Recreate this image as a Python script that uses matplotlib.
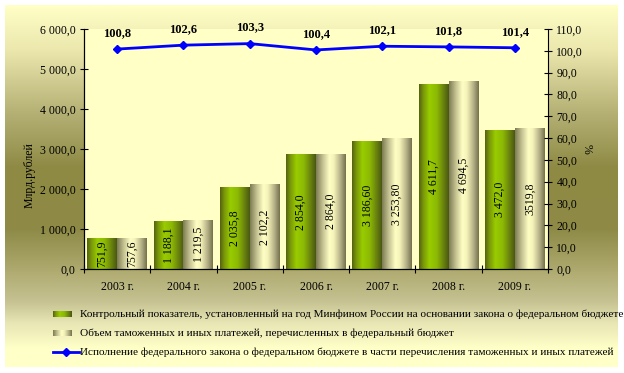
import numpy as np
import matplotlib
matplotlib.use('Agg')
import matplotlib.pyplot as plt
from matplotlib.colors import LinearSegmentedColormap


# -- -----------------------------
# data
years       = ['2003 г.', '2004 г.', '2005 г.', '2006 г.', '2007 г.', '2008 г.', '2009 г.']

plan        = [751.9, 1188.1, 2035.8, 2854.0, 3186.60, 4611.7, 3472.0]
plan_lbl    = ['751,9', '1 188,1', '2 035,8', '2 854,0', '3 186,60', '4 611,7', '3 472,0']

fact        = [757.6, 1219.5, 2102.2, 2864.0, 3253.80, 4694.5, 3519.8]
fact_lbl    = ['757,6', '1 219,5', '2 102,2', '2 864,0', '3 253,80', '4 694,5', '3519,8']

pct         = [100.8, 102.6, 103.3, 100.4, 102.1, 101.8, 101.4]
pct_lbl     = ['100,8', '102,6', '103,3', '100,4', '102,1', '101,8', '101,4']

legend_lbl  = [
    'Контрольный показатель, установленный на год Минфином России на основании закона о федеральном бюджете',
    'Объем таможенных и иных платежей, перечисленных в федеральный бюджет',
    'Исполнение федерального закона о федеральном бюджете в части перечисления таможенных и иных платежей',
]
# -- -----------------------------


plt.rcParams['font.family'] = ['Liberation Serif', 'DejaVu Serif']

W, H = 624, 373
LINE_COLOR = '#0000FF'

green_cmap = LinearSegmentedColormap.from_list('green_bar', [
    (0.00, '#556410'), (0.15, '#7C9A08'), (0.35, '#99CC00'),
    (0.60, '#8CB804'), (0.82, '#6A840E'), (1.00, '#4A5812')])

cream_cmap = LinearSegmentedColormap.from_list('cream_bar', [
    (0.00, '#7E7C54'), (0.20, '#BEBC8C'), (0.45, '#FFFFC4'),
    (0.60, '#F4F2B8'), (0.82, '#B6B288'), (1.00, '#76724E')])

bg_cmap = LinearSegmentedColormap.from_list('panel_bg', [
    (0.00, '#FFFFC6'), (0.12, '#ECE8AE'), (0.30, '#B4B074'),
    (0.45, '#8E8A44'), (0.62, '#8E8A46'), (0.74, '#B0AC72'),
    (0.82, '#C6C292'), (0.88, '#E8E6B4'), (0.95, '#FFFFC8'), (1.00, '#FFFFC8')])


fig = plt.figure(figsize=(W / 100, H / 100), dpi=100)
fig.patch.set_facecolor('white')

# -- -----------------------------
# panel background with vertical gradient
bg = fig.add_axes([5 / W, 1 - 367 / H, 613 / W, 362 / H])
bg.imshow(np.linspace(0, 1, 256).reshape(-1, 1), cmap=bg_cmap, aspect='auto',
          extent=[0, 1, 0, 1], origin='upper')
bg.set_axis_off()

# -- -----------------------------
# main axes
ax = fig.add_axes([84 / W, 1 - 269 / H, 464 / W, 240 / H])
ax.set_facecolor('#FFFFC6')
ax.set_zorder(2)

x = np.arange(len(years))
bw = 0.45

bars1 = ax.bar(x - bw / 2, plan, bw, color='none', edgecolor='none')
bars2 = ax.bar(x + bw / 2, fact, bw, color='none', edgecolor='none')

grad = np.linspace(0, 1, 64).reshape(1, -1)
for bars, cmap in ((bars1, green_cmap), (bars2, cream_cmap)):
    for b in bars:
        x0, y0 = b.get_x(), b.get_y()
        ax.imshow(grad, cmap=cmap, aspect='auto', zorder=2,
                  extent=[x0, x0 + b.get_width(), y0, y0 + b.get_height()])

for bars, labels in ((bars1, plan_lbl), (bars2, fact_lbl)):
    for b, t in zip(bars, labels):
        ax.text(b.get_x() + b.get_width() / 2, b.get_height() / 2, t,
                rotation=90, ha='center', va='center', fontsize=8.5, zorder=3)

ax.set_xlim(-0.5, len(years) - 0.5)
ax.set_ylim(0, 6000)
ax.set_yticks(np.arange(0, 6001, 1000))
ax.set_yticklabels(['{:,.1f}'.format(v).replace(',', ' ').replace('.', ',')
                    for v in np.arange(0, 6001, 1000)], fontsize=8.5)
ax.set_xticks(np.arange(-0.5, len(years), 1.0))
ax.set_xticklabels([])
ax.set_xticks(x, minor=True)
ax.set_xticklabels(years, minor=True, fontsize=8.5)
ax.tick_params(axis='x', which='minor', length=0, pad=9)
ax.tick_params(axis='x', which='major', direction='inout', length=6)
ax.tick_params(axis='y', direction='inout', length=6, pad=3)
ax.spines['top'].set_visible(False)
ax.spines['right'].set_visible(False)
ax.set_ylabel('Млрд.рублей', fontsize=8.5)
ax.yaxis.set_label_coords(-0.105, 0.39)

# -- -----------------------------
# percent line on secondary axis
ax2 = ax.twinx()
ax2.set_zorder(3)
ax2.patch.set_visible(False)
ax2.plot(x, pct, color=LINE_COLOR, lw=2, marker='D', ms=4, zorder=4)
for xi, v, t in zip(x, pct, pct_lbl):
    ax2.annotate(t, (xi, v), xytext=(0, 11.5), textcoords='offset points',
                 ha='center', va='center', fontsize=9, fontweight='bold')
ax2.set_ylim(0, 110)
ax2.set_yticks(np.arange(0, 111, 10))
ax2.set_yticklabels(['{:.1f}'.format(v).replace('.', ',') for v in np.arange(0, 111, 10)],
                    fontsize=8.5)
ax2.tick_params(axis='y', direction='inout', length=6, pad=3)
ax2.spines['top'].set_visible(False)
ax2.set_ylabel('%', fontsize=8.5, rotation=270)
ax2.yaxis.set_label_coords(1.097, 0.5)


# -- -----------------------------
# legend, drawn by hand in pixel coordinates of the figure
lg = fig.add_axes([0, 0, 1, 1])
lg.set_axis_off()
lg.set_zorder(4)

rows_y = [314, 333, 352]
for cmap, y in zip((green_cmap, cream_cmap), rows_y[:2]):
    lg.imshow(grad, cmap=cmap, aspect='auto', extent=[53, 72, y + 3, y - 3])
lg.plot([53, 79], [rows_y[2]] * 2, color=LINE_COLOR, lw=2)
lg.plot([66], [rows_y[2]], color=LINE_COLOR, marker='D', ms=4)
lg.set_xlim(0, W)
lg.set_ylim(H, 0)

for t, y in zip(legend_lbl, rows_y):
    lg.text(80, y, t, ha='left', va='center', fontsize=8.15)

fig.savefig('out.png', dpi=100)
